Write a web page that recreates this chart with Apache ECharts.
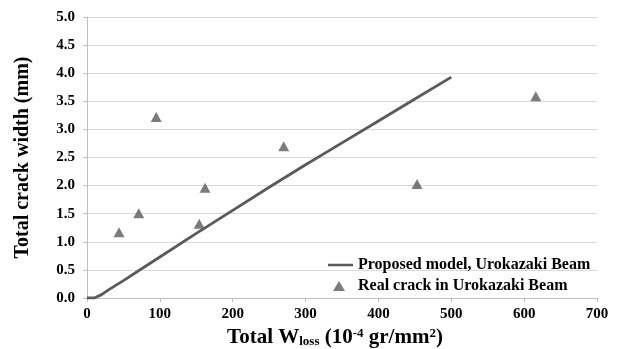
<!DOCTYPE html>
<html>
<head>
	<meta http-equiv="Content-Type" content="text/html; charset=utf-8" />
	<title>Crack width</title>
	<script src="https://cdn.jsdelivr.net/npm/echarts@6/dist/echarts.min.js"></script>
	<style>
		html,body{margin:0;padding:0;background:#fff;}
		#main{width:618px;height:349px;}
	</style>
</head>
<body>
	<div id="main"></div>
	<script type="text/javascript">
		// proposed model curve
		var modelX = [0, 10, 20, 30, 50, 75, 100, 150, 200, 250, 300, 350, 400, 450, 500];
		var modelY = [0, 0, 0.06, 0.15, 0.31, 0.52, 0.73, 1.15, 1.56, 1.97, 2.37, 2.76, 3.15, 3.54, 3.93];
		// measured cracks
		var realX = [44, 71, 95, 154, 162, 270, 453, 616];
		var realY = [1.17, 1.51, 3.22, 1.32, 1.96, 2.70, 2.03, 3.59];

		var seriesNames = ['Proposed model, Urokazaki Beam', 'Real crack in Urokazaki Beam'];
		var font = 'Liberation Serif, Times New Roman, serif';
		var grey = '#5a5a5a';

		var myChart = echarts.init(document.getElementById('main'));
		myChart.setOption({
			animation: false,
			grid: { left: 87, right: 21, top: 17, bottom: 51, outerBoundsMode: 'none' },
			legend: {
				orient: 'vertical',
				left: 323,
				top: 252,
				itemGap: 5,
				itemWidth: 25,
				itemHeight: 10,
				textStyle: { fontFamily: font, fontWeight: 'bold', fontSize: 16, color: '#000' },
				data: [
					{ name: seriesNames[0], icon: 'path://M0,4 L25,4 L25,6.5 L0,6.5 Z', itemStyle: { color: grey } },
					{ name: seriesNames[1], icon: 'path://M0,10 M25,0 M5,10 L11,0 L17,10 Z', itemStyle: { color: grey } }
				]
			},
			xAxis: {
				type: 'value',
				min: 0, max: 700, interval: 100,
				name: 'Total {b|W}{s|loss}{b| (10}{p|-4}{b| gr/mm}{p|2}{b|)}',
				nameLocation: 'middle',
				nameGap: 26,
				nameTextStyle: {
					padding: [0, 14, 0, 0],
					fontFamily: font, fontWeight: 'bold', fontSize: 21, color: '#000',
					rich: {
						b: { fontFamily: font, fontWeight: 'bold', fontSize: 21, color: '#000' },
						s: { fontFamily: font, fontWeight: 'bold', fontSize: 13, color: '#000', padding: [9, 0, 0, 0] },
						p: { fontFamily: font, fontWeight: 'bold', fontSize: 13, color: '#000', padding: [0, 0, 8, 0] }
					}
				},
				splitLine: { show: false },
				axisLine: { lineStyle: { color: '#bfbfbf' } },
				axisTick: { show: true, length: 4, lineStyle: { color: '#bfbfbf' } },
				axisLabel: { fontFamily: font, fontWeight: 'bold', fontSize: 15, color: '#000', margin: 9 }
			},
			yAxis: {
				type: 'value',
				min: 0, max: 5, interval: 0.5,
				name: 'Total crack width (mm)',
				nameLocation: 'middle',
				nameGap: 54,
				nameTextStyle: { fontFamily: font, fontWeight: 'bold', fontSize: 20, color: '#000' },
				axisLine: { show: true, lineStyle: { color: '#bfbfbf' } },
				axisTick: { show: true, length: 4, lineStyle: { color: '#bfbfbf' } },
				splitLine: { lineStyle: { color: '#d9d9d9', width: 1 } },
				axisLabel: {
					fontFamily: font, fontWeight: 'bold', fontSize: 15, color: '#000', margin: 12,
					formatter: function (v) { return v.toFixed(1); }
				}
			},
			series: [
				{
					name: seriesNames[0],
					type: 'line',
					symbol: 'none',
					lineStyle: { color: grey, width: 2.8 },
					itemStyle: { color: grey },
					data: modelX.map(function (x, i) { return [x, modelY[i]]; })
				},
				{
					name: seriesNames[1],
					type: 'scatter',
					symbol: 'triangle',
					symbolSize: [11, 10],
					itemStyle: { color: grey },
					data: realX.map(function (x, i) { return [x, realY[i]]; })
				}
			]
		});
	</script>
</body>
</html>
